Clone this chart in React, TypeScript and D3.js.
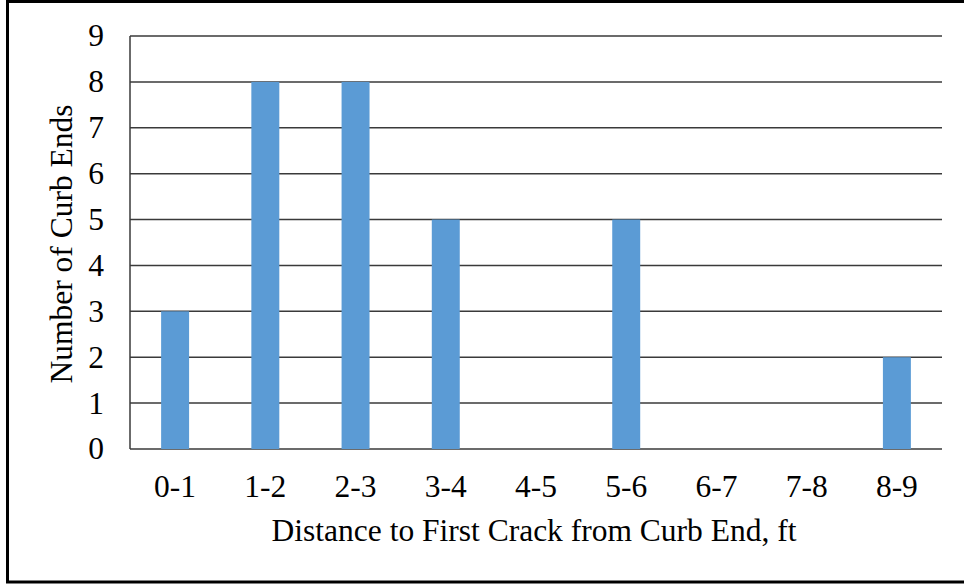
import React from "react";
import * as d3 from "d3";

const categories = ["0-1", "1-2", "2-3", "3-4", "4-5", "5-6", "6-7", "7-8", "8-9"];
const counts = [3, 8, 8, 5, 0, 5, 0, 0, 2];
const yTicks = [0, 1, 2, 3, 4, 5, 6, 7, 8, 9];
const xTitle = "Distance to First Crack from Curb End, ft";
const yTitle = "Number of Curb Ends";

export default function App() {
  const W = 964, H = 584;
  const left = 130, right = 942, top = 36, bottom = 449;
  const x = d3.scaleBand<string>().domain(categories).range([left, right]).paddingInner(0).paddingOuter(0);
  const y = d3.scaleLinear().domain([0, 9]).range([bottom, top]);
  const barW = x.bandwidth() * 0.31;
  const font = "'Liberation Serif', 'Times New Roman', serif";
  const fs = 31.5;
  return (
    <svg width={W} height={H} style={{ position: "absolute", left: 0, top: 0, background: "#fff" }}>
      <rect x={7.5} y={1.5} width={W + 10} height={580.5} fill="#fff" stroke="#000" strokeWidth={3} />
      {yTicks.map((t) => (
        <line key={"g" + t} x1={left} x2={right} y1={y(t)} y2={y(t)} stroke="#3a3a3a" strokeWidth={1.5} />
      ))}
      <line x1={left} x2={left} y1={top} y2={bottom} stroke="#3a3a3a" strokeWidth={1.5} />
      {categories.map((c, i) => (
        <rect
          key={c}
          x={(x(c) as number) + x.bandwidth() / 2 - barW / 2}
          y={y(counts[i])}
          width={barW}
          height={bottom - y(counts[i])}
          fill="#5B9BD5"
        />
      ))}
      {yTicks.map((t) => (
        <text key={"yl" + t} x={104} y={y(t)} dy="0.33em" textAnchor="end" fontFamily={font} fontSize={fs} fill="#000">
          {t}
        </text>
      ))}
      {categories.map((c) => (
        <text key={"xl" + c} x={(x(c) as number) + x.bandwidth() / 2} y={497} textAnchor="middle" fontFamily={font} fontSize={fs} fill="#000">
          {c}
        </text>
      ))}
      <text x={534} y={541} textAnchor="middle" fontFamily={font} fontSize={fs} fill="#000">
        {xTitle}
      </text>
      <text transform={`translate(72, 244) rotate(-90)`} textAnchor="middle" fontFamily={font} fontSize={fs} fill="#000">
        {yTitle}
      </text>
    </svg>
  );
}
